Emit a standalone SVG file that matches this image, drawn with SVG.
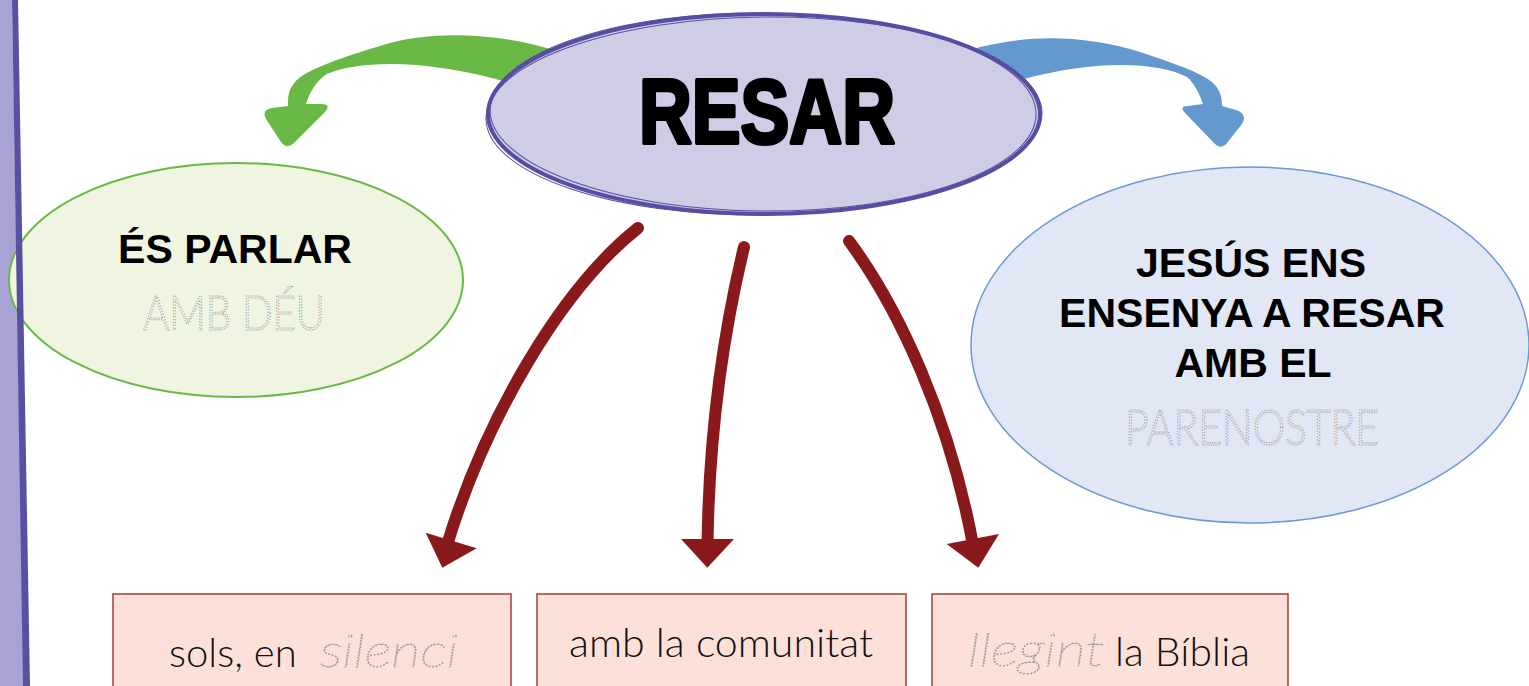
<svg xmlns="http://www.w3.org/2000/svg" width="1529" height="686" viewBox="0 0 1529 686">
<style>
  .bold { font-family: "Liberation Sans", Arial, sans-serif; font-weight: 700; fill: #000; }
  .light { font-family: "Lato", "Liberation Sans", sans-serif; font-weight: 300; fill: #111; }
  .dotted { font-family: "Lato", "Liberation Sans", sans-serif; font-weight: 300; fill: none; stroke: #9a9a9a; stroke-width: 1.1; stroke-dasharray: 1.3 1.6; }
  .cursive { font-family: "Lato", "Liberation Serif", serif; font-style: italic; font-weight: 100; fill: none; stroke: #9a9a9a; stroke-width: 1.1; stroke-dasharray: 1.3 1.6; }
  .redline { fill: none; stroke: #8a191c; stroke-width: 12; stroke-linecap: round; }
  .redhead { fill: #8a191c; }
  .box { fill: #fde0d8; stroke: #a63b3c; stroke-width: 1.5; }
</style>
<rect width="1529" height="686" fill="#ffffff"/>
<g id="border-band">
  <polygon points="0,0 12,0 24,686 0,686" fill="#a9a3d5"/>
</g>
<g id="connectors">
  <path d="M 560,52 C 500,32 430,30 383,45 C 340,58 305,70 295,82 C 288,90 288,97 288,106 L 272,108 Q 261,110 266,119 L 281,142 Q 287,150 294,143 L 325,112 Q 332,104 321,104 L 306,104 C 310,92 316,81 327,74 C 360,60 430,58 520,86 Z" fill="#6ab946"/>
  <path d="M 970,50 C 1020,35 1080,33 1143,53 C 1180,65 1205,75 1213,83 C 1222,92 1222,100 1222,106 L 1236,110 Q 1248,114 1242,124 L 1227,143 Q 1221,150 1215,144 L 1186,114 Q 1178,106 1188,106 L 1203,104 C 1199,92 1193,82 1187,77 C 1160,63 1100,58 1020,80 Z" fill="#6499cf"/>
  <path class="redline" d="M 638,228 C 560,290 485,420 447,545"/>
  <polygon class="redhead" points="425.7,532.7 476.7,548.3 442.3,567.7"/>
  <path class="redline" d="M 744,247 C 724,330 709,430 707.5,545"/>
  <polygon class="redhead" points="681,539 734,539 707.3,567.7"/>
  <path class="redline" d="M 849,241 C 900,310 950,420 973,545"/>
  <polygon class="redhead" points="946.7,544 999,534 978.3,567.7"/>
</g>
<g id="node-resar">
  <ellipse cx="764" cy="114" rx="276" ry="100" fill="#cfcde6" stroke="#574ea3" stroke-width="4"/>
  <ellipse cx="764" cy="116" rx="278" ry="99" fill="none" stroke="#574ea3" stroke-width="1" transform="rotate(-0.6 764 116)"/>
  <ellipse cx="763" cy="112" rx="273" ry="99" fill="none" stroke="#574ea3" stroke-width="1" transform="rotate(0.5 764 114)"/>
  <text x="767" y="143" text-anchor="middle" font-size="91" class="bold" stroke="#000" stroke-width="4" stroke-linejoin="round" textLength="256" lengthAdjust="spacingAndGlyphs">RESAR</text>
</g>
<g id="node-parlar">
  <ellipse cx="236" cy="280" rx="227" ry="117" fill="#f0f5e1" stroke="#6ab946" stroke-width="2"/>
  <text x="235" y="263" text-anchor="middle" font-size="41" class="bold">ÉS PARLAR</text>
  <text x="234" y="330" text-anchor="middle" font-size="48" class="dotted" textLength="182" lengthAdjust="spacingAndGlyphs">AMB DÉU</text>
</g>
<g id="node-jesus">
  <ellipse cx="1250" cy="345" rx="279" ry="178" fill="#e2e7f5" stroke="#6c98d4" stroke-width="1.5"/>
  <text x="1251" y="277" text-anchor="middle" font-size="41" class="bold">JESÚS ENS</text>
  <text x="1252" y="327" text-anchor="middle" font-size="41" class="bold">ENSENYA A RESAR</text>
  <text x="1253" y="377" text-anchor="middle" font-size="41" class="bold">AMB EL</text>
  <text x="1252" y="445" text-anchor="middle" font-size="50" class="dotted" textLength="254" lengthAdjust="spacingAndGlyphs">PARENOSTRE</text>
</g>
<g id="node-sols">
  <rect class="box" x="113" y="594" width="398" height="100"/>
  <text x="169" y="667" font-size="40" class="light">sols, en</text>
  <text x="320" y="667" font-size="46" class="cursive" textLength="138" lengthAdjust="spacingAndGlyphs">silenci</text>
</g>
<g id="node-comunitat">
  <rect class="box" x="537" y="594" width="369" height="100"/>
  <text x="569" y="657" font-size="40" class="light" textLength="304" lengthAdjust="spacingAndGlyphs">amb la comunitat</text>
</g>
<g id="node-biblia">
  <rect class="box" x="932" y="594" width="356" height="100"/>
  <text x="968" y="666" font-size="46" class="cursive" textLength="137" lengthAdjust="spacingAndGlyphs">llegint</text>
  <text x="1115" y="666" font-size="40" class="light" textLength="135" lengthAdjust="spacingAndGlyphs">la Bíblia</text>
</g>
<g id="border-line">
  <polygon points="12,0 18,0 30,686 23,686" fill="#5851a3"/>
</g>
</svg>
